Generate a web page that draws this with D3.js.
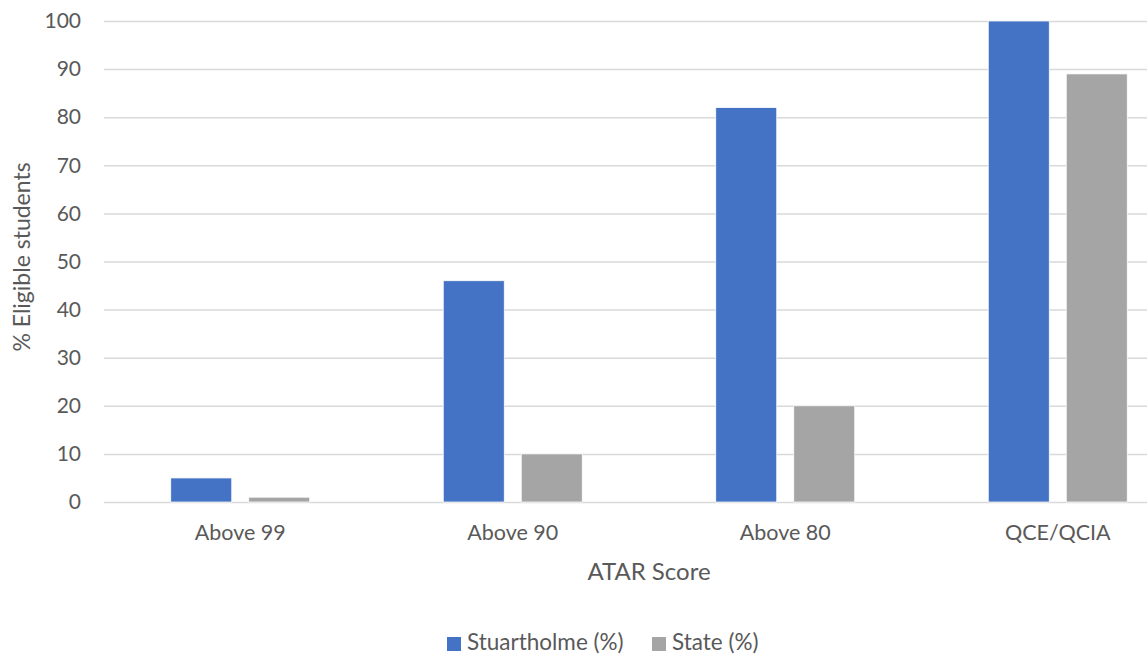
<!DOCTYPE html>
<html>
<head>
<meta charset="utf-8">
<script src="https://cdn.jsdelivr.net/npm/d3@7"></script>
<style>
  html, body { margin: 0; padding: 0; background: #fff; overflow: hidden; }
  svg { display: block; }
  svg text { font-family: Lato, "Open Sans", sans-serif; }
</style>
</head>
<body>
<svg id="chart" width="1147" height="654"></svg>
<script>
const categories = ["Above 99", "Above 90", "Above 80", "QCE/QCIA"];
const seriesNames = ["Stuartholme (%)", "State (%)"];
const stuartholme = [5, 46, 82, 100];
const state = [1, 10, 20, 89];
const yTicks = [0, 10, 20, 30, 40, 50, 60, 70, 80, 90, 100];
const colors = ["#4472C4", "#A5A5A5"];

const svg = d3.select("#chart");
const textColor = "#595959";

const x0 = d3.scaleBand().domain(categories).range([104, 1194])
  .paddingInner(0.49).paddingOuter(0.245);
const x1 = d3.scaleBand().domain(seriesNames).range([0, x0.bandwidth()])
  .paddingInner(0.218).paddingOuter(0);
const y = d3.scaleLinear().domain([0, 100]).range([502, 21]);

// gridlines
const yAxis = d3.axisLeft(y).tickValues(yTicks).tickSize(-(1194 - 104)).tickPadding(23);
const gy = svg.append("g").attr("transform", "translate(104,0)").call(yAxis)
  .attr("font-family", null);
gy.select(".domain").remove();
gy.selectAll(".tick line").attr("stroke", "#d9d9d9").attr("stroke-width", 1.5);
gy.selectAll(".tick text").attr("fill", textColor).attr("font-size", 21);

// bars
const data = categories.map((c, i) => ({ cat: c, vals: [stuartholme[i], state[i]] }));
const groups = svg.append("g").selectAll("g").data(data).join("g")
  .attr("transform", d => `translate(${x0(d.cat)},0)`);
groups.selectAll("rect").data(d => d.vals.map((v, j) => ({ name: seriesNames[j], v, j })))
  .join("rect")
  .attr("x", d => x1(d.name))
  .attr("width", x1.bandwidth())
  .attr("y", d => y(d.v))
  .attr("height", d => y(0) - y(d.v))
  .attr("fill", d => colors[d.j])
  .attr("stroke", "#ffffff").attr("stroke-width", 0.75);

// x axis labels
const xAxis = d3.axisBottom(x0).tickSize(0).tickPadding(23);
const gx = svg.append("g").attr("transform", "translate(0,502)").call(xAxis)
  .attr("font-family", null);
gx.select(".domain").remove();
gx.selectAll(".tick text").attr("fill", textColor).attr("font-size", 21.5);

// axis titles
svg.append("text").attr("x", 649).attr("y", 580).attr("text-anchor", "middle")
  .attr("fill", textColor).attr("font-size", 24).text("ATAR Score");
svg.append("text").attr("transform", "translate(30,257) rotate(-90)")
  .attr("text-anchor", "middle").attr("fill", textColor).attr("font-size", 23)
  .text("% Eligible students");

// legend
const legendItems = [{ name: seriesNames[0], x: 447 }, { name: seriesNames[1], x: 652 }];
const lg = svg.append("g").selectAll("g").data(legendItems).join("g")
  .attr("transform", d => `translate(${d.x},637)`);
lg.append("rect").attr("width", 14).attr("height", 14)
  .attr("fill", (d, i) => colors[i]);
lg.append("text").attr("x", 20).attr("y", 13).attr("fill", textColor)
  .attr("font-size", 22.5).text(d => d.name);
</script>
</body>
</html>
